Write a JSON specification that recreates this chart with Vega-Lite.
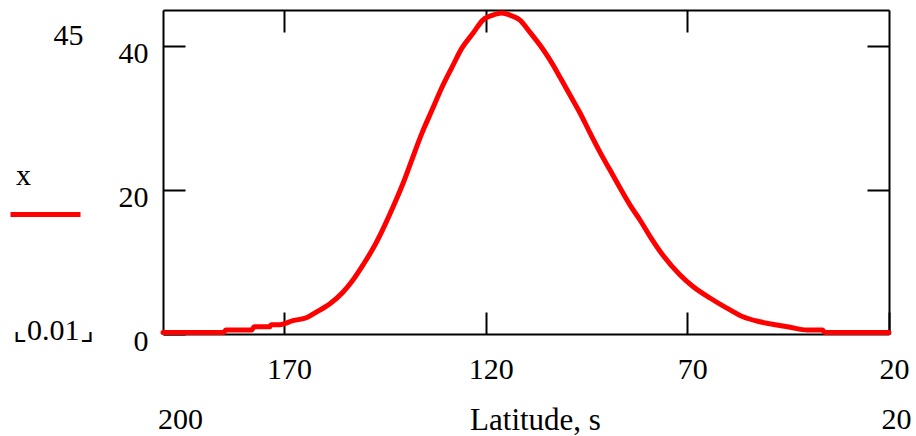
{
  "$schema": "https://vega.github.io/schema/vega-lite/v6.json",
  "width": 726,
  "height": 324,
  "autosize": "none",
  "padding": {"left": 163, "top": 10, "right": 27, "bottom": 102},
  "background": "white",
  "data": {"values": [
    {"lat": 200, "val": 0.2},
    {"lat": 185, "val": 0.2},
    {"lat": 184.4, "val": 0.55},
    {"lat": 178, "val": 0.55},
    {"lat": 177.4, "val": 1.0},
    {"lat": 173.5, "val": 1.0},
    {"lat": 173.2, "val": 1.3},
    {"lat": 171, "val": 1.3},
    {"lat": 167.8, "val": 1.85},
    {"lat": 164.3, "val": 2.3},
    {"lat": 161.8, "val": 3.1},
    {"lat": 158.6, "val": 4.2},
    {"lat": 155.4, "val": 5.8},
    {"lat": 152.9, "val": 7.5},
    {"lat": 150.4, "val": 9.6},
    {"lat": 147.9, "val": 11.9},
    {"lat": 145.7, "val": 14.3},
    {"lat": 143.0, "val": 17.6},
    {"lat": 140.5, "val": 20.9},
    {"lat": 138.3, "val": 24.2},
    {"lat": 135.8, "val": 27.9},
    {"lat": 133.3, "val": 31.1},
    {"lat": 130.8, "val": 34.3},
    {"lat": 128.3, "val": 37.1},
    {"lat": 125.9, "val": 39.7},
    {"lat": 123.1, "val": 41.8},
    {"lat": 120.7, "val": 43.6},
    {"lat": 118.2, "val": 44.3},
    {"lat": 116.0, "val": 44.6},
    {"lat": 114.0, "val": 44.3},
    {"lat": 111.5, "val": 43.6},
    {"lat": 109.0, "val": 41.9},
    {"lat": 106.5, "val": 40.1},
    {"lat": 104.1, "val": 38.1},
    {"lat": 101.6, "val": 35.7},
    {"lat": 99.1, "val": 33.2},
    {"lat": 96.6, "val": 30.7},
    {"lat": 94.1, "val": 27.9},
    {"lat": 91.7, "val": 25.3},
    {"lat": 89.2, "val": 22.8},
    {"lat": 86.7, "val": 20.3},
    {"lat": 84.2, "val": 17.9},
    {"lat": 81.7, "val": 15.8},
    {"lat": 79.3, "val": 13.6},
    {"lat": 76.0, "val": 10.9},
    {"lat": 71.8, "val": 8.2},
    {"lat": 68.6, "val": 6.6},
    {"lat": 64.4, "val": 5.0},
    {"lat": 60.2, "val": 3.6},
    {"lat": 56.2, "val": 2.4},
    {"lat": 52.0, "val": 1.7},
    {"lat": 47.8, "val": 1.25},
    {"lat": 44.5, "val": 0.93},
    {"lat": 40.3, "val": 0.55},
    {"lat": 36.5, "val": 0.55},
    {"lat": 35.9, "val": 0.2},
    {"lat": 20, "val": 0.2}
  ]},
  "config": {
    "view": {"stroke": null},
    "axis": {
      "grid": false,
      "domainColor": "black",
      "domainWidth": 2,
      "tickColor": "black",
      "tickWidth": 2,
      "labelFont": "Times New Roman, Liberation Serif, serif",
      "labelFontSize": 30,
      "labelColor": "black",
      "labelFlush": false,
      "labelOverlap": false,
      "titleFont": "Times New Roman, Liberation Serif, serif",
      "titleFontWeight": "normal",
      "titleColor": "black"
    }
  },
  "layer": [
    {
      "mark": {"type": "line", "strokeWidth": 5, "strokeCap": "round", "strokeJoin": "round", "interpolate": "monotone"},
      "encoding": {
        "x": {
          "field": "lat", "type": "quantitative",
          "scale": {"domain": [20, 200], "reverse": true, "nice": false, "zero": false},
          "axis": {"orient": "bottom", "values": [170, 120, 70, 20], "tickSize": -22, "labelPadding": 66, "labelBaseline": "alphabetic", "labelOffset": 5, "title": null}
        },
        "y": {
          "field": "val", "type": "quantitative",
          "scale": {"domain": [0, 45], "nice": false},
          "axis": {"orient": "left", "values": [0, 20, 40], "tickSize": -22, "labelPadding": 37, "labelBaseline": "middle", "labelOffset": 7, "title": null}
        },
        "color": {
          "datum": "x",
          "scale": {"range": ["#ff0000"]},
          "legend": {
            "orient": "none", "legendX": -147, "legendY": 151,
            "title": "x", "titleFont": "Times New Roman, Liberation Serif, serif", "titleFontSize": 30, "titleFontWeight": "normal", "titleColor": "black",
            "titlePadding": -14, "padding": 0,
            "symbolType": "stroke", "symbolStrokeWidth": 5, "symbolSize": 4900, "symbolStrokeColor": "#ff0000", "symbolOffset": -8,
            "labelExpr": "''"
          }
        }
      }
    },
    {
      "mark": {"type": "line", "opacity": 0},
      "encoding": {
        "x": {"field": "lat", "type": "quantitative", "axis": {"orient": "top", "values": [170, 120, 70], "tickSize": -22, "labels": false, "title": null}},
        "y": {"field": "val", "type": "quantitative", "axis": {"orient": "right", "values": [20, 40], "tickSize": -22, "labels": false, "title": null}}
      }
    },
    {
      "mark": {"type": "line", "opacity": 0},
      "encoding": {
        "x": {"field": "lat", "type": "quantitative", "axis": {
          "orient": "bottom", "values": [200, 20], "ticks": false, "domain": false,
          "labelPadding": 94, "labelBaseline": "alphabetic",
          "labelOffset": {"condition": {"test": "datum.value == 200", "value": 17}, "value": 7},
          "title": "Latitude, s", "titleFontSize": 31, "titleBaseline": "alphabetic", "titleAlign": "center", "titleX": 372, "titleY": 95
        }},
        "y": {"field": "val", "type": "quantitative", "axis": {
          "orient": "left", "values": [45, 0], "ticks": false, "domain": false,
          "labelExpr": "datum.value == 0 ? '⌞0.01⌟' : '45'",
          "labelPadding": {"condition": {"test": "datum.value == 45", "value": 80}, "value": 70},
          "labelBaseline": "middle",
          "labelOffset": {"condition": {"test": "datum.value == 45", "value": 25}, "value": -4},
          "title": null
        }}
      }
    }
  ],
  "resolve": {"axis": {"x": "independent", "y": "independent"}}
}
